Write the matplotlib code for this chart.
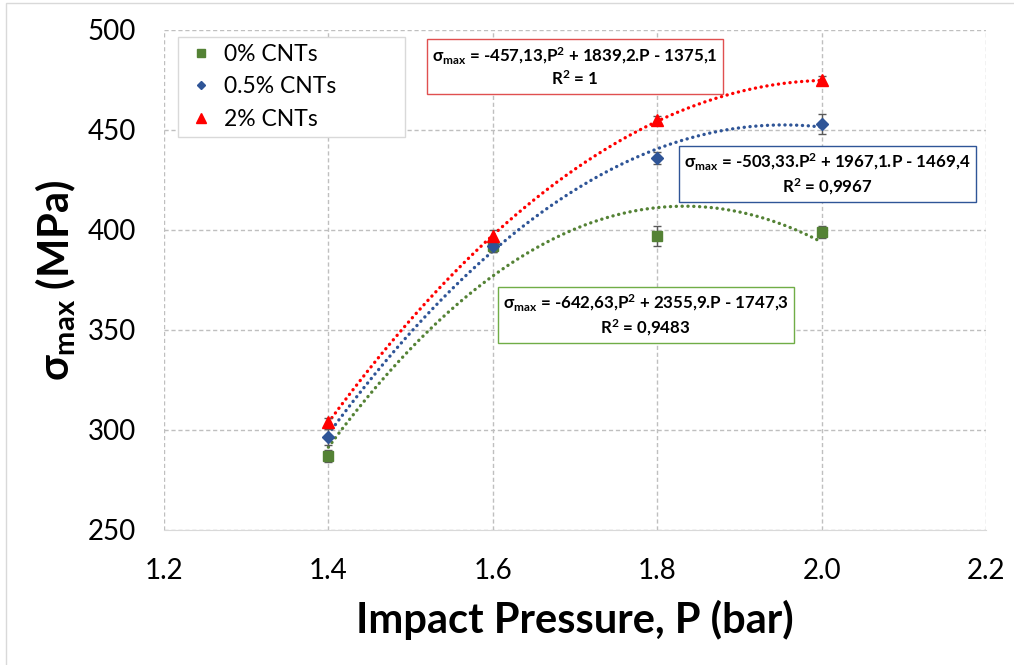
import matplotlib
matplotlib.use("Agg")
import matplotlib.pyplot as plt
import numpy as np
from matplotlib.patches import Rectangle
from matplotlib.lines import Line2D

plt.rcParams['font.family'] = ['Lato', 'DejaVu Sans']
plt.rcParams['mathtext.default'] = 'regular'

pressure = [1.4, 1.6, 1.8, 2.0]
labels = ["0% CNTs", "0.5% CNTs", "2% CNTs"]
stress = [
    [287, 392, 397, 399],
    [296.5, 392, 436, 453],
    [304, 397, 455, 475],
]
errors = [
    [3, 3, 5, 3],
    [4, 3, 3, 5],
    [2, 3, 2, 2],
]
# trendline coefficients as printed on the chart (a, b, c)
fits = [
    [-642.63, 2355.9, -1747.3],
    [-503.33, 1967.1, -1469.4],
    [-457.13, 1839.2, -1375.1],
]
equations = [
    "σ$_{max}$ = -642,63,P$^{2}$ + 2355,9.P - 1747,3\nR$^{2}$ = 0,9483",
    "σ$_{max}$ = -503,33.P$^{2}$ + 1967,1.P - 1469,4\nR$^{2}$ = 0,9967",
    "σ$_{max}$ = -457,13,P$^{2}$ + 1839,2.P - 1375,1\nR$^{2}$ = 1",
]
colors = ["#548235", "#2F5597", "#FF0000"]
box_edges = ["#70AD47", "#2F5597", "#E05050"]
markers = ["s", "D", "^"]
msizes = [7, 6, 8]
box_pos = [(0.586, 0.43), (0.807, 0.712), (0.500, 0.926)]

fig = plt.figure(figsize=(10.14, 6.65), dpi=100)
ax = fig.add_axes([164 / 1014, 1 - 530 / 665, 822 / 1014, 500 / 665])

xs = np.linspace(1.4, 2.0, 200)
handles = []
for i in range(3):
    a, b, c = fits[i]
    ax.plot(xs, a * xs**2 + b * xs + c, linestyle=(0, (0.05, 1.7)), color=colors[i],
            linewidth=2.4, dash_capstyle='round', zorder=2)
    ax.errorbar(pressure, stress[i], yerr=errors[i], fmt=markers[i], color=colors[i],
                markersize=msizes[i], ecolor="#595959", elinewidth=1, capsize=3,
                zorder=3)
    handles.append(Line2D([], [], linestyle='none', marker=markers[i], color=colors[i],
                          markersize=msizes[i] - 1.5, label=labels[i]))
    ax.text(box_pos[i][0], box_pos[i][1], equations[i], transform=ax.transAxes,
            ha='center', va='center', fontsize=12.2, fontweight='bold',
            multialignment='center', zorder=4,
            bbox=dict(boxstyle='square,pad=0.3', facecolor='white', edgecolor=box_edges[i], linewidth=1))

ax.set_xlim(1.2, 2.2)
ax.set_ylim(250, 500)
ax.set_xticks([1.2, 1.4, 1.6, 1.8, 2.0, 2.2])
ax.set_xticklabels(["1.2", "1.4", "1.6", "1.8", "2.0", "2.2"])
ax.set_yticks([250, 300, 350, 400, 450, 500])
ax.tick_params(length=0, labelsize=20, pad=20)
ax.grid(True, color="#BFBFBF", linestyle=(0, (3, 2)), linewidth=1)
ax.set_axisbelow(True)
for s in ["top", "right", "left"]:
    ax.spines[s].set_visible(False)
ax.spines["bottom"].set_color("#D9D9D9")

ax.set_xlabel("Impact Pressure, P (bar)", fontsize=30, fontweight='bold')
ax.xaxis.set_label_coords(0.5, -0.14)
ax.set_ylabel("σ$_{max}$ (MPa)", fontsize=30, fontweight='bold')
ax.yaxis.set_label_coords(-0.105, 0.5)

leg = ax.legend(handles=handles, loc='upper left', bbox_to_anchor=(0.017, 0, 0.276, 0.986),
                mode='expand', borderaxespad=0,
                fontsize=16.5, frameon=True, fancybox=False, edgecolor="#D9D9D9",
                framealpha=1, handletextpad=0.3, borderpad=0.3, labelspacing=0.5,
                handlelength=1.4)
leg.get_frame().set_linewidth(1)

fig.patches.append(Rectangle((6 / 1014, -0.01), 1.0, 1 - 3 / 665 + 0.01, transform=fig.transFigure,
                             fill=False, edgecolor="#D9D9D9", linewidth=1))

fig.savefig("out.png", dpi=100)
